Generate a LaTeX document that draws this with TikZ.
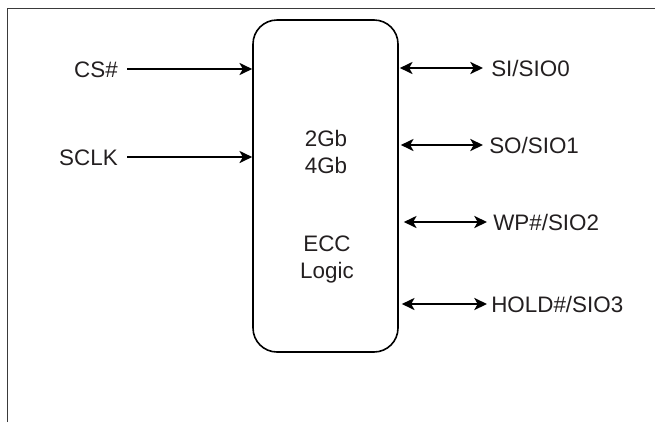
\documentclass[tikz,border=0pt]{standalone}
\usepackage{fontspec}
\setmainfont{Liberation Sans}
\usetikzlibrary{arrows.meta}
\definecolor{txt}{HTML}{231F20}
\definecolor{frm}{HTML}{3A3A3A}
\begin{document}
\begin{tikzpicture}[x=0.75pt,y=-0.75pt,
  lbl/.style={inner sep=0pt,text height=12pt,text depth=0pt,text=txt,font=\fontsize{16.8}{20}\selectfont},
  tip/.style={},
  sig/.style={line width=1.8pt,-{Stealth[length=9.5pt,width=9pt,inset=2.5pt]}},
  bisig/.style={line width=1.8pt,{Stealth[length=9.5pt,width=9pt,inset=2.5pt]}-{Stealth[length=9.5pt,width=9pt,inset=2.5pt]}},
  chip/.style={draw,line width=1.2pt,rounded corners=18pt,minimum width=108.75pt,minimum height=249pt,inner sep=0pt}]
\useasboundingbox (0,0) rectangle (655,422);
\draw[frm,line width=0.9pt] (7.5,422) -- (7.5,8.5) -- (655,8.5);
\node[chip] (box) at (325.5,186) {};
\node[lbl] (t1) at (326,138.5) {2Gb};
\node[lbl] (t2) at (326,165) {4Gb};
\node[lbl] (t3) at (327,243) {ECC};
\node[lbl] (t4) at (327,270) {Logic};
\node[lbl,anchor=east] (cs) at (118,69) {CS\#};
\node[lbl,anchor=east] (sclk) at (118,157) {SCLK};
\draw[sig] ([xshift=6.75pt]cs.east) -- (cs.east -| box.west);
\draw[sig] ([xshift=6.75pt]sclk.east) -- (sclk.east -| box.west);
\node[lbl,anchor=west] (si) at (491,68) {SI/SIO0};
\node[lbl,anchor=west] (so) at (489,145) {SO/SIO1};
\node[lbl,anchor=west] (wp) at (493,222) {WP\#/SIO2};
\node[lbl,anchor=west] (hold) at (491,304) {HOLD\#/SIO3};
\draw[bisig] ([xshift=0.75pt]si.west -| box.east) -- ([xshift=-6pt]si.west);
\draw[bisig] ([xshift=1.5pt]so.west -| box.east) -- ([xshift=-4.5pt]so.west);
\draw[bisig] ([xshift=3.75pt]wp.west -| box.east) -- ([xshift=-4.5pt]wp.west);
\draw[bisig] ([xshift=2.25pt]hold.west -| box.east) -- ([xshift=-3pt]hold.west);
\end{tikzpicture}
\end{document}
